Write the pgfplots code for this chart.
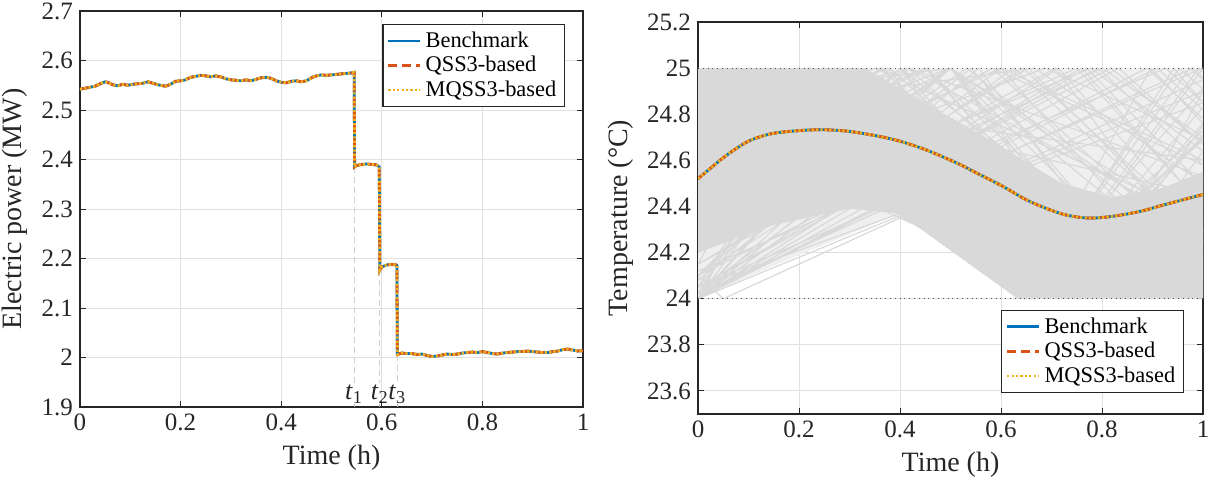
\documentclass[border=0pt]{standalone}
\usepackage{fontspec}
\setmainfont{Liberation Serif}
\usepackage{pgfplots}
\pgfplotsset{compat=1.18}

\definecolor{mblue}{RGB}{0,114,189}
\definecolor{morange}{RGB}{217,83,25}
\definecolor{myellow}{RGB}{237,177,32}
\definecolor{ltgray}{RGB}{217,217,217}
\definecolor{paleg}{RGB}{239,239,239}
\definecolor{axgray}{RGB}{38,38,38}

\pgfplotsset{
  mstyle/.style={
    scale only axis, xmin=0, xmax=1,
    tick align=inside, major tick length=3pt,
    grid=major, major grid style={draw=black!12, line width=0.5pt},
    axis line style={draw=axgray, line width=0.6pt},
    every tick/.style={draw=axgray, line width=0.5pt},
    tick label style={font=\fontsize{12.5}{14}\selectfont, text=axgray},
    label style={font=\fontsize{14}{16}\selectfont, text=axgray},
    /pgf/number format/assume math mode=true,
    xtick={0,0.2,0.4,0.6,0.8,1},
    xticklabels={0,0.2,0.4,0.6,0.8,1},
    xlabel={Time (h)},
    legend style={font=\fontsize{11.2}{13}\selectfont, draw=axgray, line width=0.6pt,
      inner xsep=2pt, inner ysep=1.5pt, row sep=-1pt, cells={anchor=west}},
    legend image code/.code={\draw[#1] (0cm,0cm) -- (0.56cm,0cm);},
  },
  bench/.style={mblue, line width=1.4pt},
  qss/.style={morange, line width=1.4pt, dash pattern=on 4.5pt off 2.5pt},
  mqss/.style={myellow, line width=1.4pt, dash pattern=on 1.1pt off 1.1pt},
  tmark/.style={black!18, line width=0.5pt, dash pattern=on 3pt off 2pt, forget plot},
}

% electric power of the aggregated load (MW)
\pgfplotstableread{
t P
0.000 2.542
0.010 2.544
0.020 2.546
0.030 2.548
0.040 2.553
0.050 2.557
0.055 2.556
0.065 2.551
0.075 2.549
0.085 2.552
0.095 2.550
0.105 2.552
0.115 2.553
0.125 2.554
0.135 2.557
0.145 2.554
0.155 2.551
0.170 2.548
0.180 2.552
0.190 2.558
0.200 2.559
0.210 2.561
0.220 2.566
0.230 2.568
0.240 2.570
0.250 2.569
0.260 2.567
0.270 2.569
0.280 2.567
0.290 2.563
0.300 2.561
0.310 2.560
0.320 2.559
0.330 2.561
0.340 2.559
0.350 2.562
0.360 2.565
0.370 2.566
0.380 2.564
0.390 2.559
0.400 2.556
0.410 2.555
0.420 2.558
0.430 2.559
0.440 2.557
0.450 2.559
0.460 2.565
0.470 2.569
0.480 2.571
0.490 2.570
0.500 2.571
0.510 2.572
0.520 2.573
0.530 2.574
0.540 2.575
0.545 2.576
0.546 2.385
0.550 2.388
0.560 2.390
0.570 2.391
0.580 2.390
0.590 2.389
0.595 2.385
0.596 2.176
0.600 2.183
0.610 2.187
0.620 2.188
0.629 2.187
0.630 2.186
0.631 2.006
0.640 2.009
0.650 2.008
0.660 2.008
0.670 2.006
0.680 2.007
0.690 2.004
0.700 2.002
0.710 2.003
0.720 2.005
0.730 2.007
0.740 2.006
0.750 2.007
0.760 2.009
0.770 2.010
0.780 2.011
0.790 2.010
0.800 2.012
0.810 2.010
0.820 2.008
0.830 2.007
0.840 2.009
0.850 2.010
0.860 2.011
0.870 2.012
0.880 2.012
0.890 2.013
0.900 2.012
0.910 2.011
0.920 2.010
0.930 2.010
0.940 2.012
0.950 2.013
0.960 2.016
0.970 2.017
0.980 2.015
0.990 2.013
1.000 2.014
}\powerdata

% mean indoor temperature (degC)
\pgfplotstableread{
t T
0.000 24.520
0.054 24.618
0.100 24.683
0.146 24.716
0.200 24.729
0.245 24.733
0.298 24.726
0.359 24.704
0.400 24.683
0.451 24.646
0.512 24.589
0.558 24.538
0.603 24.488
0.649 24.430
0.687 24.394
0.725 24.365
0.764 24.351
0.794 24.351
0.832 24.361
0.878 24.380
0.924 24.408
1.000 24.452
}\tempdata

% individual building temperatures (segments separated by nan rows)
\pgfplotstableread{
t T
0 24.9
0.05 25
0.656 24
1 24.69
nan nan
0 24.8
0.08 25
0.636 24
1 24.91
nan nan
0 24.7
0.1 25
0.641 24
0.974 25
1 24.95
nan nan
0 24.5
0.15 25
0.65 24
0.953 25
1 24.91
nan nan
0 24.6
0.2 25
0.655 24
1 24.69
nan nan
0 24.4
0.25 25
0.685 24
1 24.76
nan nan
0 24.3
0.3 25
0.7 24
1 24.7
nan nan
0 24.2
0.4 25
0.733 24
1 24.53
nan nan
0 24.55
0.3 25
0.755 24
1 24.37
nan nan
0 24.75
0.2 25
0.756 24
1 24.31
nan nan
0 24.85
0.1 25
0.725 24
1 24.41
nan nan
0 24.95
0.05 25
0.717 24
1 24.28
nan nan
0 24.45
0.367 25
0.767 24
1 24.35
nan nan
0 24.1
0.4 25
0.817 24
1 24.41
nan nan
0 24.0
0.417 25
0.917 24
1 24.2
nan nan
0 24.35
0.361 25
0.861 24
1 24.25
nan nan
0 24.65
0.25 25
0.838 24
1 24.23
nan nan
0 24.8
0.222 25
0.847 24
1 24.14
nan nan
0 24.25
0.25 25
0.75 24
1 24.75
nan nan
0 24.15
0.2125 25
0.647 24
0.897 25
1 24.76
nan nan
0 24.05
0.271 25
0.656 24
0.942 25
1 24.85
nan nan
0 24.9
0.2 25
0.788 24
1 24.11
nan nan
0 24.7
0.375 25
0.732 24
1 24.21
nan nan
0 24.5
0.455 25
0.855 24
1 24.16
nan nan
0 24.6
0.133 25
0.659 24
0.992 25
1 24.985
nan nan
0 24.95
0.025 25
0.65 24
1 24.7
nan nan
0 24.85
0.25 25
0.75 24
1 24.15
nan nan
0 24.4
0.5 25
0.833 24
1 24.2
nan nan
0 24.2
0.5 25
0.885 24
1 24.18
nan nan
0 24.0
0.556 25
0.889 24
1 24.2
nan nan
0 25
0.635 24
1 24.73
nan nan
0 24.97
0.669 24
1 24.83
nan nan
0 24.9
0.692 24
1 24.46
nan nan
0 24.9
0.667 24
1 25
nan nan
0 24.95
0.864 24
1 24.27
nan nan
0 24.75
0.75 24
1 24.3
nan nan
0 24.85
0.895 24
1 24.21
nan nan
0 24.7
0.933 24
1 24.2
nan nan
0 24.1
0.05 24
1 24.95
nan nan
0 24.0
1 24.9
nan nan
0 24.02
0.98 25
1 24.96
nan nan
0 24.05
0.792 25
1 24.58
nan nan
0 24.0
0.714 25
1 24.29
nan nan
0 24.1
0.818 25
1 24.67
nan nan
0 24.15
0.654 25
1 24.24
nan nan
0 24.0
0.625 25
1 24.25
nan nan
0 24.08
0.541 25
0.926 24
1 24.13
nan nan
0 24.2
0.533 25
1 24.16
nan nan
0 24.0
0.5 25
0.955 24
1 24.09
nan nan
0 24.12
0.926 25
1 24.85
nan nan
0 24.05
1 24.85
nan nan
0 24.25
0.75 25
1 24.4
nan nan
0 24.3
0.778 25
1 24.64
nan nan
0 24.0
0.333 25
0.788 24
1 24.64
nan nan
0 24.05
0.38 25
0.88 24
1 24.3
nan nan
0 24.0
0.4 25
0.988 24
1 24.03
nan nan
0 24.1
0.45 25
0.867 24
1 24.27
nan nan
0 24.02
0.28 25
0.905 24
1 24.33
nan nan
0 24.0
0.25 25
0.776 24
1 24.9
nan nan
0 24.03
0.6 25
1 24.0
nan nan
0 24.0
0.833 25
1 24.67
nan nan
0 24.6
0.5 25
1 24.25
nan nan
0 24.75
0.417 25
1 24.3
nan nan
0 24.85
0.5 25
1 24.1
nan nan
0 24.9
1 24.6
nan nan
0 24.95
1 24.45
nan nan
0 24.5
0.417 25
1 24.53
nan nan
0 24.3
0.583 25
1 24.58
nan nan
0 24.55
0.45 25
0.95 24
1 24.1
nan nan
0 24.4
0.6 25
1 24.6
nan nan
0 24.8
0.667 25
1 24.5
nan nan
0 24.65
0.35 25
1 24.35
nan nan
0 24.45
0.688 25
1 24.69
nan nan
0 24.0
0.889 25
1 24.78
nan nan
0 24.05
0.76 25
1 24.4
nan nan
0 24.1
0.643 25
1 24.29
nan nan
0 24.0
0.909 25
1 24.82
nan nan
0 24.2
0.8 25
1 24.7
nan nan
0 24.15
0.708 25
1 24.12
nan nan
0 24.05
1 25
nan nan
0 24.0
0.769 25
1 24.49
nan nan
0 24.25
0.5 25
1 24.3
nan nan
0 24.1
0.5 25
0.857 24
1 24.26
nan nan
0 24.3
0.583 25
1 24.17
nan nan
0 24.35
0.26 25
0.715 24
1 24.71
}\buildings

\begin{document}
\begin{tikzpicture}
\useasboundingbox (0,0) rectangle (607pt,239.5pt);

% ---------------- electric power ----------------
\begin{axis}[mstyle,
  at={(40pt,36pt)}, anchor=south west,
  width=251.5pt, height=198pt,
  ymin=1.9, ymax=2.7,
  ytick={1.9,2,2.1,2.2,2.3,2.4,2.5,2.6,2.7},
  yticklabels={1.9,2,2.1,2.2,2.3,2.4,2.5,2.6,2.7},
  ylabel={Electric power (MW)},
  legend style={at={(0.964,0.967)}, anchor=north east},
]
\addplot[tmark] coordinates {(0.545,2.385) (0.545,1.948)};
\addplot[tmark] coordinates {(0.596,2.176) (0.596,1.948)};
\addplot[tmark] coordinates {(0.631,2.006) (0.631,1.948)};
\addplot[black!30, line width=0.5pt, forget plot] coordinates {(0.545,1.9) (0.545,1.907)};
\addplot[black!30, line width=0.5pt, forget plot] coordinates {(0.596,1.9) (0.596,1.907)};
\addplot[black!30, line width=0.5pt, forget plot] coordinates {(0.631,1.9) (0.631,1.907)};
\addplot[bench] table[x=t,y=P] {\powerdata};
\addplot[qss] table[x=t,y=P] {\powerdata};
\addplot[mqss] table[x=t,y=P] {\powerdata};
\legend{Benchmark, QSS3-based, MQSS3-based}
\node[inner sep=0pt, font=\fontsize{13}{15}\selectfont, text=axgray]
  at (axis cs:0.545,1.926) {\textit{t}\textsubscript{1}};
\node[inner sep=0pt, font=\fontsize{13}{15}\selectfont, text=axgray]
  at (axis cs:0.596,1.926) {\textit{t}\textsubscript{2}};
\node[inner sep=0pt, font=\fontsize{13}{15}\selectfont, text=axgray]
  at (axis cs:0.631,1.926) {\textit{t}\textsubscript{3}};
\end{axis}

% ---------------- indoor temperature ----------------
\begin{axis}[mstyle,
  at={(349pt,32.5pt)}, anchor=south west,
  width=252.5pt, height=196pt,
  ymin=23.5, ymax=25.2,
  ytick={23.6,23.8,24,24.2,24.4,24.6,24.8,25,25.2},
  yticklabels={23.6,23.8,24,24.2,24.4,24.6,24.8,25,25.2},
  ylabel={Temperature (°C)},
  legend style={at={(0.962,0.054)}, anchor=south east},
]
% loosely covered part of the comfort band
\addplot[fill=paleg, draw=none, forget plot] coordinates {
  (0,24) (0,25) (1,25) (1,24) (0.634,24) (0.4,24.37) (0.2,24.19)} -- cycle;
% densely covered part of the comfort band
\addplot[fill=ltgray, draw=none, forget plot] coordinates {
  (0,24.2) (0,25) (0.33,25) (0.45,24.85) (0.6,24.66) (0.72,24.5)
  (0.82,24.44) (0.92,24.48) (1,24.55) (1,24.0) (0.634,24.0) (0.4,24.37)
  (0.3,24.39) (0.15,24.32)} -- cycle;
\addplot[ltgray, line width=0.6pt, forget plot, unbounded coords=jump]
  table[x=t,y=T] {\buildings};
\addplot[black!70, line width=0.4pt, dotted, forget plot] coordinates {(0,25) (1,25)};
\addplot[black!70, line width=0.4pt, dotted, forget plot] coordinates {(0,24) (1,24)};
\addplot[bench, smooth] table[x=t,y=T] {\tempdata};
\addplot[qss, smooth] table[x=t,y=T] {\tempdata};
\addplot[mqss, smooth] table[x=t,y=T] {\tempdata};
\legend{Benchmark, QSS3-based, MQSS3-based}
\end{axis}
\end{tikzpicture}
\end{document}
